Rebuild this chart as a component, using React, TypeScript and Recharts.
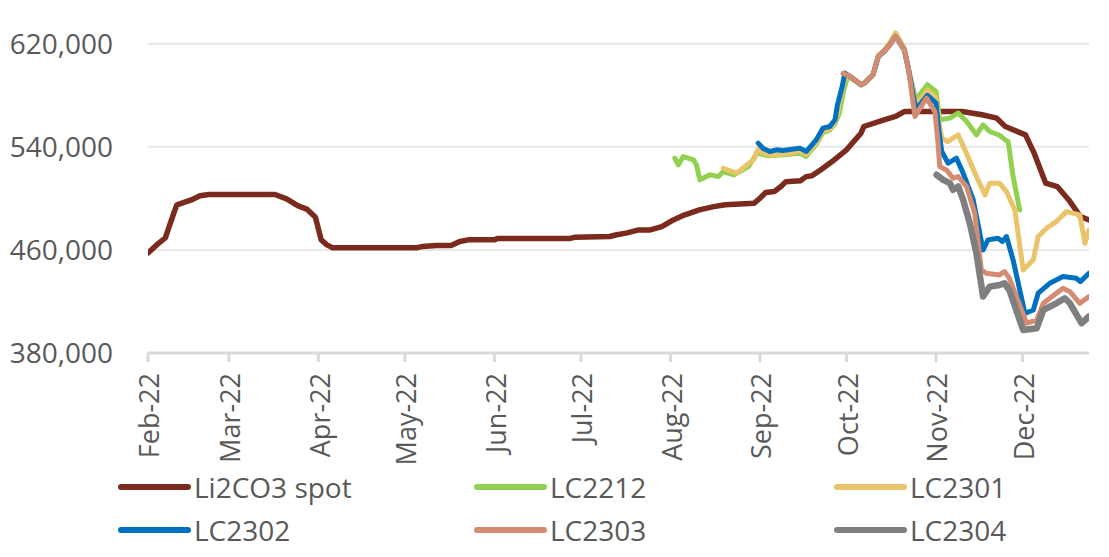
import React from "react";
import { LineChart, Line, XAxis, YAxis, CartesianGrid, Legend } from "recharts";

// x = days since 1 Feb 2022
const monthTicks = [0, 28, 59, 89, 120, 150, 181, 212, 242, 273, 303];
const monthLabels = ["Feb-22", "Mar-22", "Apr-22", "May-22", "Jun-22", "Jul-22", "Aug-22", "Sep-22", "Oct-22", "Nov-22", "Dec-22"];
const yTicks = [380000, 460000, 540000, 620000];
const gridValues = [460000, 540000, 620000];

const seriesNames = ["Li2CO3 spot", "LC2212", "LC2301", "LC2302", "LC2303", "LC2304"];
const seriesColors = ["#7B2A1E", "#92D050", "#E9C46A", "#0070C0", "#D38C72", "#7F7F7F"];

const spot: [number, number][] = [
  [0, 457700], [3, 463900], [6, 469300], [9, 488900], [10, 495000], [15, 498800], [18, 502000], [21, 503000],
  [44, 503000], [48, 499600], [52, 494200], [55, 491700], [58, 485400], [60, 467800], [62, 463900], [64, 461600],
  [93, 461700], [95, 462600], [100, 463400], [105, 463400], [108, 466500], [111, 467800], [120, 467800],
  [121, 468800], [146, 468800], [148, 469900], [160, 470400], [162, 471600], [166, 473200], [170, 475500],
  [174, 475500], [178, 478100], [182, 483300], [185, 486400], [191, 491100], [196, 493600], [200, 495000],
  [210, 496300], [212, 500100], [214, 504500], [217, 505300], [219, 508700], [221, 513000], [226, 513600],
  [228, 516900], [230, 517500], [233, 522100], [237, 528600], [242, 537700], [247, 550600], [248, 555800],
  [255, 561000], [259, 563600], [262, 567400], [282, 567400], [289, 564900], [294, 562300], [297, 555800],
  [304, 549300], [307, 535100], [311, 511800], [315, 509200], [319, 498800], [323, 485900], [326, 483300],
];

const lc2212: [number, number][] = [
  [182.5, 531200], [183.7, 526000], [185.4, 532500], [189, 529900], [190, 526000], [191.2, 514400],
  [194.7, 518300], [197.6, 516900], [199.3, 520800], [203, 518300], [208, 524700], [211, 535100],
  [215, 533000], [220, 533800], [225.8, 535100], [228, 532500], [231.5, 542000], [233.8, 551000],
  [236.2, 553200], [238, 558000], [239.5, 566000], [241, 584000], [242.5, 595000], [243.2, 594000],
  [247, 588000], [248.3, 589500], [251.2, 595900], [253, 610100], [255, 614000], [257, 619200],
  [259, 625700], [262, 615300], [263.5, 599800], [266, 576500], [270, 588200], [273, 583000],
  [274.3, 561000], [277.8, 562300], [280.7, 566200], [283.6, 559700], [287, 549300], [289.3, 557100],
  [291.6, 551900], [295, 549000], [297, 545400], [298, 544100], [299.7, 516900], [302, 491000],
];

const lc2301: [number, number][] = [
  [199.3, 523400], [203.9, 519600], [209.7, 529900], [211.4, 538000], [213, 535500], [215.4, 533500],
  [220, 534500], [225.8, 536500], [228.1, 534000], [231.5, 543000], [233.8, 552500], [236.2, 554000],
  [238, 559000], [239, 567000], [240.5, 585000], [242, 596000], [243.2, 595000], [247, 588500],
  [248.3, 590000], [251.2, 596500], [253, 611000], [255, 615000], [257, 621000], [259, 628500],
  [262, 616500], [263.5, 600500], [266, 572000], [270, 584000], [273, 578000], [274, 560000],
  [275, 546800], [277, 544100], [280.7, 549300], [283, 537700], [287, 516900], [290, 502700],
  [291.6, 511800], [295, 511800], [297.4, 505300], [300.3, 491000], [303.2, 444500], [306.7, 452300],
  [308.4, 470400], [311.3, 476900], [314.7, 482000], [318.2, 489700], [322.8, 487200], [324.6, 465200],
  [326, 475500],
];

const lc2302: [number, number][] = [
  [211.4, 542900], [213, 539000], [215.4, 536400], [217.7, 537700], [220, 537100], [225.8, 539000],
  [228.1, 536400], [231.5, 545400], [233.8, 554500], [236.2, 555800], [238, 561000], [238.8, 572000],
  [240.5, 586900], [241.4, 597200], [243.2, 594600], [247, 588200], [248.3, 589500], [251.2, 595900],
  [253, 610100], [255, 614000], [257, 619200], [259, 625700], [262, 615300], [263.5, 599800],
  [266, 569000], [270, 580000], [273, 574000], [274, 552000], [275, 536400], [277.2, 527300],
  [280.1, 531200], [282.4, 519600], [285.9, 498800], [289.3, 460000], [291, 467800], [294.5, 469100],
  [296, 466500], [297.4, 470400], [299.7, 452300], [303.8, 410800], [306.7, 413400], [308.4, 426400],
  [312.4, 434100], [317, 439300], [321.6, 438000], [323, 435400], [326, 441900],
];

const lc2303: [number, number][] = [
  [240.8, 597000], [243.2, 594600], [247, 588200], [248.3, 589500], [251.2, 595900], [253, 610100],
  [255, 614000], [257, 619200], [259, 625700], [262, 615300], [263.5, 599800], [265.7, 563600],
  [269.7, 577800], [272.6, 567400], [273.6, 545400], [274.3, 524700], [276.6, 522100], [278.9, 515700],
  [280.7, 516900], [283.6, 509200], [286.4, 488500], [288.7, 444500], [290.4, 441900], [295, 440600],
  [296.7, 443200], [298.4, 438000], [304.4, 403100], [307.9, 405600], [310.2, 418600], [314.7, 426400],
  [317, 430200], [319.4, 427600], [322.8, 418600], [326, 423800],
];

const lc2304: [number, number][] = [
  [273.2, 518300], [275.5, 514400], [277.8, 511800], [278.9, 506600], [280.7, 509200], [282.4, 498800],
  [284.7, 480700], [287, 457400], [289.3, 423800], [291.6, 431500], [295, 432800], [296.7, 434100],
  [298.4, 428900], [303.2, 397900], [307.9, 399200], [310.2, 413400], [314.7, 418600], [317.6, 422500],
  [319.4, 418600], [323.4, 403100], [326, 408300],
];

const allSeries = [spot, lc2212, lc2301, lc2302, lc2303, lc2304];
const strokeWidths = [5.5, 5, 5, 5, 5, 6.5];

const toPoints = (arr: [number, number][]) => arr.map(([d, v]) => ({ d, v }));

const FONT = "'Open Sans', 'DejaVu Sans', sans-serif";
const TEXT = "#595959";

const XTick = (props: any) => {
  const { x, y, payload } = props;
  const idx = monthTicks.indexOf(payload.value);
  return (
    <text
      transform={`translate(${x},${y + 11}) rotate(-90)`}
      textAnchor="end"
      dy="0.42em"
      fontSize={27}
      fontFamily={FONT}
      fill={TEXT}
    >
      {idx >= 0 ? monthLabels[idx] : ""}
    </text>
  );
};

const legendPos: Record<string, { left: number; top: number }> = {
  "Li2CO3 spot": { left: 118, top: 487 },
  LC2212: { left: 474, top: 487 },
  LC2301: { left: 834, top: 487 },
  LC2302: { left: 118, top: 530 },
  LC2303: { left: 474, top: 530 },
  LC2304: { left: 834, top: 530 },
};
const LEGEND_TOP = 460;

const renderLegend = (props: any) => {
  const { payload } = props;
  return (
    <div style={{ position: "relative", width: 1109, height: 97 }}>
      {(payload || []).map((entry: any) => {
        const pos = legendPos[entry.value];
        if (!pos) return null;
        return (
          <div
            key={entry.value}
            style={{
              position: "absolute",
              left: pos.left,
              top: pos.top - LEGEND_TOP - 20,
              height: 40,
              display: "flex",
              alignItems: "center",
              whiteSpace: "nowrap",
            }}
          >
            <div style={{ width: 73, height: 6, borderRadius: 3, background: entry.color }} />
            <span style={{ marginLeft: 3, fontSize: 28, fontFamily: FONT, color: TEXT, lineHeight: "40px" }}>
              {entry.value}
            </span>
          </div>
        );
      })}
    </div>
  );
};

export default function App() {
  return (
    <div style={{ position: "absolute", left: 0, top: 0, width: 1109, height: 557, background: "#fff" }}>
      <LineChart width={1109} height={557} margin={{ top: 18, right: 20, bottom: 0, left: 0 }}>
        <CartesianGrid vertical={false} horizontalValues={gridValues} stroke="#E8E8E8" strokeWidth={2} />
        <XAxis
          type="number"
          dataKey="d"
          domain={[0, 326]}
          allowDataOverflow
          ticks={monthTicks}
          interval={0}
          height={204}
          axisLine={{ stroke: "#D9D9D9", strokeWidth: 3 }}
          tickLine={{ stroke: "#D9D9D9", strokeWidth: 3 }}
          tickSize={9}
          tickMargin={0}
          tick={<XTick />}
        />
        <YAxis
          type="number"
          domain={[380000, 640000]}
          allowDataOverflow
          ticks={yTicks}
          interval={0}
          width={148}
          axisLine={false}
          tickLine={false}
          tickSize={0}
          tickMargin={35}
          tick={{ fontSize: 28, fontFamily: FONT, fill: TEXT }}
          tickFormatter={(v: number) => v.toLocaleString("en-US")}
        />
        <Legend
          verticalAlign="middle"
          align="center"
          layout="horizontal"
          content={renderLegend}
          wrapperStyle={{ left: 0, top: LEGEND_TOP, width: 1109, height: 97 }}
        />
        {allSeries.map((s, i) => (
          <Line
            key={seriesNames[i]}
            data={toPoints(s)}
            dataKey="v"
            name={seriesNames[i]}
            type="linear"
            stroke={seriesColors[i]}
            strokeWidth={strokeWidths[i]}
            strokeLinejoin="round"
            strokeLinecap="round"
            dot={false}
            activeDot={false}
            isAnimationActive={false}
          />
        ))}
      </LineChart>
    </div>
  );
}
